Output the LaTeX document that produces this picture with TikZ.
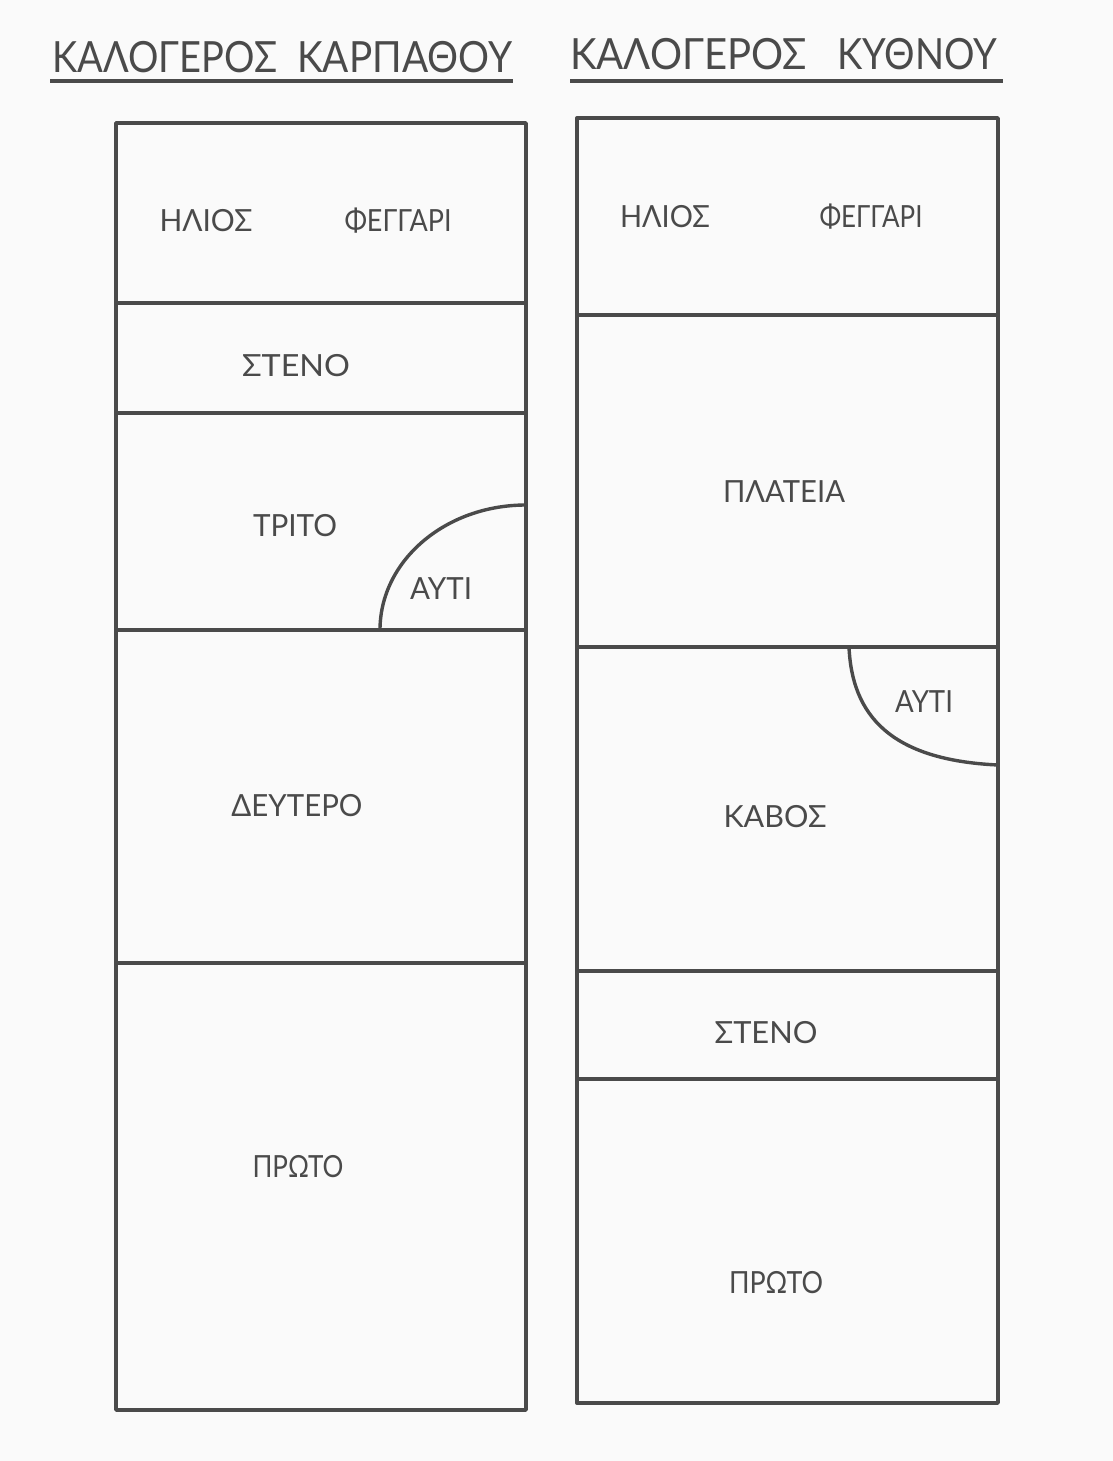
\documentclass[tikz,border=0pt]{standalone}
\usepackage{fontspec}
\usepackage{graphicx}
\setmainfont{Lato}
\definecolor{ink}{HTML}{4A4A4A}
\definecolor{paper}{HTML}{FAFAFA}
\newcommand\fitw[2]{\resizebox{#1pt}{\height}{#2}}
\begin{document}
\begin{tikzpicture}[x=1pt,y=-1pt,
  frame/.style={draw=ink,line width=3.4pt,line join=round},
  divider/.style={draw=ink,line width=3.2pt},
  curveline/.style={draw=ink,line width=3.4pt,line cap=round},
  lbl/.style={text=ink,font=\fontsize{30.5}{34}\selectfont,inner sep=0pt,anchor=center},
  ttl/.style={text=ink,font=\fontsize{43}{48}\selectfont,inner sep=0pt,anchor=base west},
  uline/.style={draw=ink,line width=3.6pt}]
\fill[paper] (0,0) rectangle (1113,1461);
\useasboundingbox (0,0) rectangle (1113,1461);
% titles
\node[ttl] (t1) at (52,73) {\fitw{225}{ΚΑΛΟΓΕΡΟΣ}\hspace{20pt}\fitw{215}{ΚΑΡΠΑΘΟΥ}};
\node[ttl] (t2) at (570,70) {\fitw{237}{ΚΑΛΟΓΕΡΟΣ}\hspace{30pt}\fitw{160}{ΚΥΘΝΟΥ}};
\coordinate (u1a) at (50,81); \coordinate (u1b) at (513,81);
\coordinate (u2a) at (570,81); \coordinate (u2b) at (1003,81);
\draw[uline] (u1a) -- (u1b);
\draw[uline] (u2a) -- (u2b);
% left column
\coordinate (L1) at (116,123); \coordinate (L2) at (526,1410);
\draw[frame] (L1) rectangle (L2);
\foreach \y in {303,413,630,963}{\draw[divider] (116,\y) -- (526,\y);}
\coordinate (la) at (526,505); \coordinate (lb) at (380,630);
\draw[curveline] (la) .. controls (445,505) and (380,561) .. (lb);
\node[lbl] (lh) at (206,221) {\fitw{93}{ΗΛΙΟΣ}};
\node[lbl] (lf) at (398,221) {\fitw{107}{ΦΕΓΓΑΡΙ}};
\node[lbl] (ls) at (296,366) {\fitw{108}{ΣΤΕΝΟ}};
\node[lbl] (lt) at (295,526) {\fitw{84}{ΤΡΙΤΟ}};
\node[lbl] (lau) at (441,589) {\fitw{62}{ΑΥΤΙ}};
\node[lbl] (ld) at (297,806) {\fitw{131}{ΔΕΥΤΕΡΟ}};
\node[lbl] (lp) at (298,1167) {\fitw{91}{ΠΡΩΤΟ}};
% right column
\coordinate (R1) at (577,118); \coordinate (R2) at (998,1403);
\draw[frame] (R1) rectangle (R2);
\foreach \y in {315,647,971,1079}{\draw[divider] (577,\y) -- (998,\y);}
\coordinate (ra) at (849,647); \coordinate (rb) at (998,765);
\draw[curveline] (ra) .. controls (852,715) and (890,760) .. (rb);
\node[lbl] (rh) at (665,217) {\fitw{90}{ΗΛΙΟΣ}};
\node[lbl] (rf) at (871,217) {\fitw{103}{ΦΕΓΓΑΡΙ}};
\node[lbl] (rpl) at (784,492) {\fitw{122}{ΠΛΑΤΕΙΑ}};
\node[lbl] (rau) at (924,702) {\fitw{58}{ΑΥΤΙ}};
\node[lbl] (rk) at (775,817) {\fitw{103}{ΚΑΒΟΣ}};
\node[lbl] (rs) at (766,1033) {\fitw{103}{ΣΤΕΝΟ}};
\node[lbl] (rp) at (776,1283) {\fitw{94}{ΠΡΩΤΟ}};
\end{tikzpicture}
\end{document}
